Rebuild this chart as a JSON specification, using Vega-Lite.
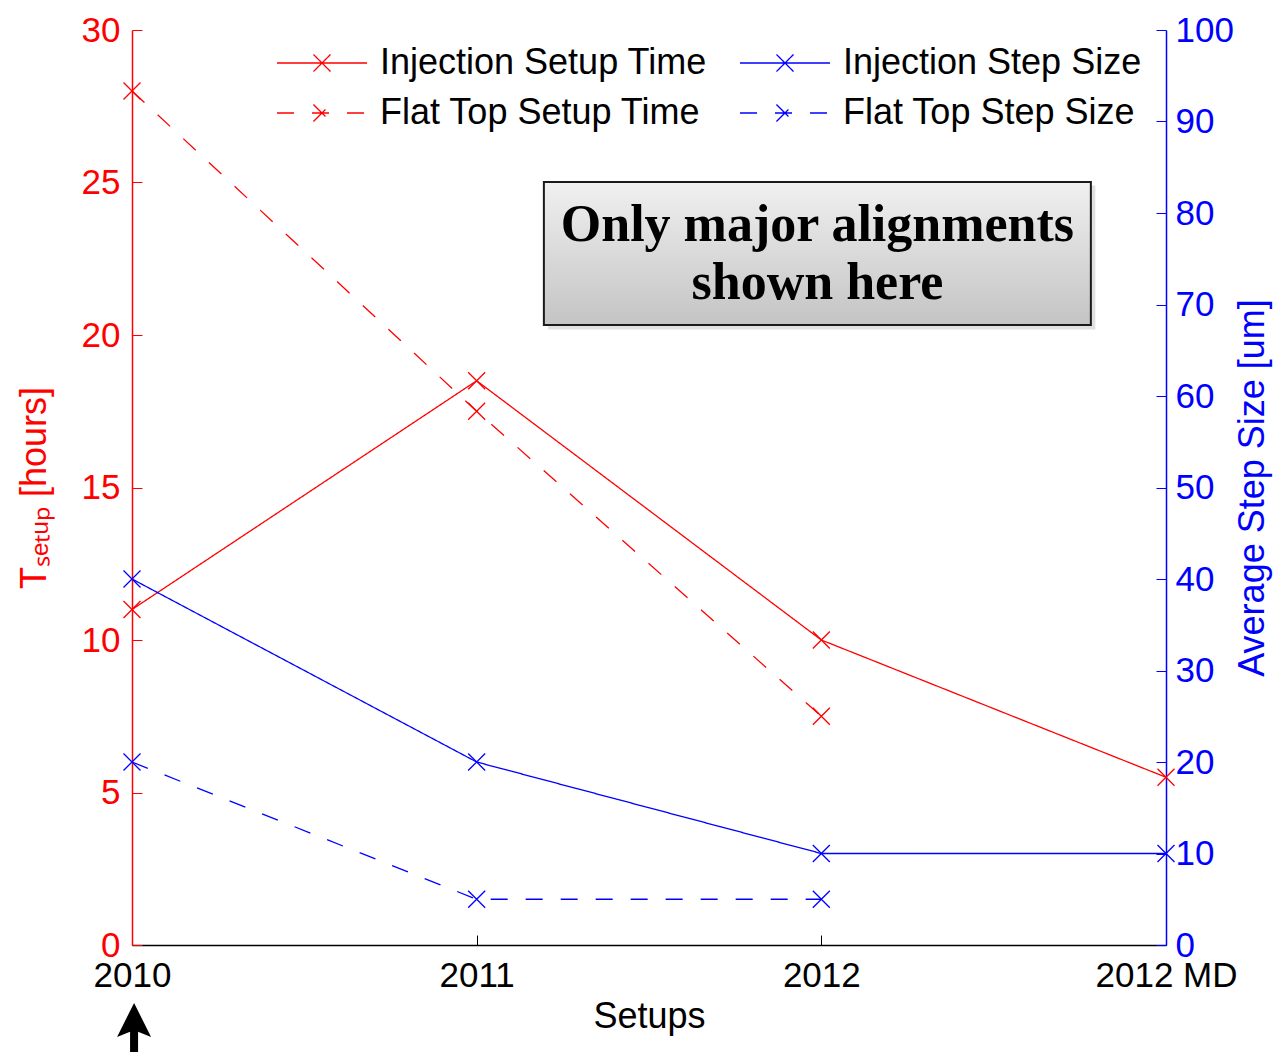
{
  "$schema": "https://vega.github.io/schema/vega-lite/v6.json",
  "width": 1034,
  "height": 915,
  "autosize": {"type": "none"},
  "padding": {"left": 132, "top": 30, "right": 115, "bottom": 107},
  "background": "white",
  "config": {
    "view": {"stroke": null},
    "font": "Liberation Sans",
    "axis": {"labelFont": "Liberation Sans", "titleFont": "Liberation Sans", "grid": false, "titleFontWeight": "normal"},
    "legend": {
      "orient": "none",
      "legendX": 172,
      "legendY": 15,
      "columns": 2,
      "columnPadding": 30,
      "rowPadding": 14,
      "symbolType": "M-3,0L3,0M-0.57,-0.57L0.57,0.57M-0.57,0.57L0.57,-0.57",
      "symbolSize": 900,
      "symbolStrokeWidth": 1.3,
      "symbolFillColor": "transparent",
      "labelFont": "Liberation Sans",
      "labelFontSize": 36,
      "labelColor": "black",
      "labelOffset": 40,
      "labelLimit": 0,
      "title": null
    }
  },
  "data": {
    "values": [
      {"setup": "2010", "setup_index": 0, "series": "Injection Setup Time", "axis": "time", "value": 11},
      {"setup": "2011", "setup_index": 1, "series": "Injection Setup Time", "axis": "time", "value": 18.5},
      {"setup": "2012", "setup_index": 2, "series": "Injection Setup Time", "axis": "time", "value": 10},
      {"setup": "2012 MD", "setup_index": 3, "series": "Injection Setup Time", "axis": "time", "value": 5.5},
      {"setup": "2010", "setup_index": 0, "series": "Flat Top Setup Time", "axis": "time", "value": 28},
      {"setup": "2011", "setup_index": 1, "series": "Flat Top Setup Time", "axis": "time", "value": 17.5},
      {"setup": "2012", "setup_index": 2, "series": "Flat Top Setup Time", "axis": "time", "value": 7.5},
      {"setup": "2010", "setup_index": 0, "series": "Injection Step Size", "axis": "step", "value": 40},
      {"setup": "2011", "setup_index": 1, "series": "Injection Step Size", "axis": "step", "value": 20},
      {"setup": "2012", "setup_index": 2, "series": "Injection Step Size", "axis": "step", "value": 10},
      {"setup": "2012 MD", "setup_index": 3, "series": "Injection Step Size", "axis": "step", "value": 10},
      {"setup": "2010", "setup_index": 0, "series": "Flat Top Step Size", "axis": "step", "value": 20},
      {"setup": "2011", "setup_index": 1, "series": "Flat Top Step Size", "axis": "step", "value": 5},
      {"setup": "2012", "setup_index": 2, "series": "Flat Top Step Size", "axis": "step", "value": 5}
    ]
  },
  "encoding": {
    "x": {
      "field": "setup_index",
      "type": "quantitative",
      "scale": {"domain": [0, 3], "nice": false, "zero": false},
      "axis": {
        "values": [0, 1, 2, 3],
        "labelExpr": "['2010','2011','2012','2012 MD'][datum.value]",
        "title": "Setups",
        "titleFontSize": 36,
        "titleColor": "black",
        "titlePadding": 6,
        "labelFontSize": 35,
        "labelColor": "black",
        "labelPadding": 23,
        "domainColor": "black",
        "domainWidth": 1.5,
        "tickColor": "black",
        "tickSize": -10,
        "labelFlush": false
      }
    },
    "color": {
      "field": "series",
      "type": "nominal",
      "scale": {
        "domain": ["Injection Setup Time", "Flat Top Setup Time", "Injection Step Size", "Flat Top Step Size"],
        "range": ["#ff0000", "#ff0000", "#0000ff", "#0000ff"]
      },
      "legend": {}
    }
  },
  "layer": [
    {
      "transform": [{"filter": "datum.axis === 'time'"}],
      "mark": {"type": "line", "strokeWidth": 1.3},
      "encoding": {
        "y": {
          "field": "value",
          "type": "quantitative",
          "scale": {"domain": [0, 30], "nice": false},
          "axis": {
            "orient": "left",
            "values": [0, 5, 10, 15, 20, 25, 30],
            "title": "Tₛₑₜᵤₚ [hours]",
            "titleFontSize": 36,
            "titleColor": "#ff0000",
            "titlePadding": 28,
            "labelFontSize": 35,
            "labelColor": "#ff0000",
            "labelPadding": 22,
            "domainColor": "#ff0000",
            "domainWidth": 1.5,
            "tickColor": "#ff0000",
            "tickSize": -10
          }
        },
        "strokeDash": {
          "field": "series",
          "type": "nominal",
          "scale": {
            "domain": ["Injection Setup Time", "Flat Top Setup Time", "Injection Step Size", "Flat Top Step Size"],
            "range": [[1, 0], [17, 18], [1, 0], [17, 18]]
          },
          "legend": {}
        }
      }
    },
    {
      "transform": [{"filter": "datum.axis === 'time'"}],
      "mark": {"type": "point", "shape": "M-1,-1L1,1M-1,1L1,-1", "filled": false, "size": 289, "strokeWidth": 1.3, "opacity": 1},
      "encoding": {
        "y": {"field": "value", "type": "quantitative", "scale": {"domain": [0, 30], "nice": false}, "axis": null}
      }
    },
    {
      "transform": [{"filter": "datum.axis === 'step'"}],
      "mark": {"type": "line", "strokeWidth": 1.3},
      "encoding": {
        "y": {
          "field": "value",
          "type": "quantitative",
          "scale": {"domain": [0, 100], "nice": false},
          "axis": {
            "orient": "right",
            "values": [0, 10, 20, 30, 40, 50, 60, 70, 80, 90, 100],
            "title": "Average Step Size [um]",
            "titleFontSize": 36,
            "titleColor": "#0000ff",
            "titleAngle": 270,
            "titleBaseline": "top",
            "titlePadding": 2,
            "labelFontSize": 35,
            "labelColor": "#0000ff",
            "labelPadding": 19,
            "domainColor": "#0000ff",
            "domainWidth": 1.5,
            "tickColor": "#0000ff",
            "tickSize": -10
          }
        },
        "strokeDash": {"field": "series", "type": "nominal"}
      }
    },
    {
      "transform": [{"filter": "datum.axis === 'step'"}],
      "mark": {"type": "point", "shape": "M-1,-1L1,1M-1,1L1,-1", "filled": false, "size": 289, "strokeWidth": 1.3, "opacity": 1},
      "encoding": {
        "y": {"field": "value", "type": "quantitative", "scale": {"domain": [0, 100], "nice": false}, "axis": null}
      }
    },
    {
      "transform": [{"filter": "datum.axis === 'time' && datum.setup_index === 0 && datum.series === 'Injection Setup Time'"}],
      "mark": {"type": "rect", "fill": "#000000", "fillOpacity": 0.12, "strokeWidth": 0},
      "encoding": {
        "x": {"datum": 1.207, "type": "quantitative"},
        "x2": {"datum": 2.795},
        "y": {"datum": 24.9, "type": "quantitative", "scale": {"domain": [0, 30], "nice": false}, "axis": null},
        "y2": {"datum": 20.18},
        "color": null
      }
    },
    {
      "transform": [{"filter": "datum.axis === 'time' && datum.setup_index === 0 && datum.series === 'Injection Setup Time'"}],
      "mark": {
        "type": "rect",
        "stroke": "#1a1a1a",
        "strokeWidth": 2,
        "fill": {
          "gradient": "linear", "x1": 0, "y1": 0, "x2": 0, "y2": 1,
          "stops": [{"offset": 0, "color": "#f0f0f0"}, {"offset": 1, "color": "#c4c4c4"}]
        }
      },
      "encoding": {
        "x": {"datum": 1.195, "type": "quantitative"},
        "x2": {"datum": 2.782},
        "y": {"datum": 25.02, "type": "quantitative", "scale": {"domain": [0, 30], "nice": false}, "axis": null},
        "y2": {"datum": 20.33},
        "color": null
      }
    },
    {
      "transform": [{"filter": "datum.axis === 'time' && datum.setup_index === 0 && datum.series === 'Injection Setup Time'"}],
      "mark": {
        "type": "text",
        "font": "Liberation Serif",
        "fontWeight": "bold",
        "fontSize": 52,
        "lineBreak": "|",
        "lineHeight": 58,
        "align": "center",
        "baseline": "middle",
        "color": "black",
        "text": "Only major alignments|shown here"
      },
      "encoding": {
        "x": {"datum": 1.9887, "type": "quantitative"},
        "y": {"datum": 23.61, "type": "quantitative", "scale": {"domain": [0, 30], "nice": false}, "axis": null},
        "color": null
      }
    },
    {
      "transform": [{"filter": "datum.axis === 'time' && datum.setup_index === 0 && datum.series === 'Injection Setup Time'"}],
      "mark": {
        "type": "point",
        "shape": "M0,-1L0.68,0.36L0.16,0.15L0.16,1L-0.16,1L-0.16,0.15L-0.68,0.36Z",
        "filled": true,
        "size": 2500,
        "color": "black",
        "opacity": 1
      },
      "encoding": {
        "x": {"datum": 0.006, "type": "quantitative"},
        "y": {"datum": -2.72, "type": "quantitative", "scale": {"domain": [0, 30], "nice": false}, "axis": null},
        "color": null
      }
    }
  ],
  "resolve": {"scale": {"y": "independent"}}
}
